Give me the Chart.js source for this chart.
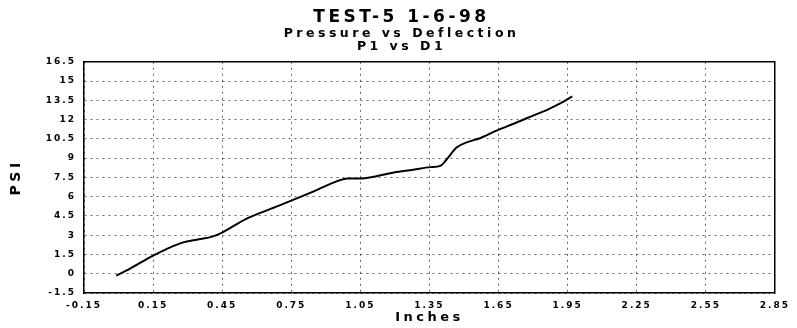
<!DOCTYPE html>
<html lang="en">
<head>
    <meta charset="UTF-8">
    <title>TEST-5 1-6-98 - Pressure vs Deflection</title>
    <script src="https://cdn.jsdelivr.net/npm/chart.js"></script>
    <style>
        html, body { margin: 0; padding: 0; background: #fff; }
        #wrap { width: 797px; height: 328px; }
    </style>
</head>
<body>
    <div id="wrap"><canvas id="testChart"></canvas></div>

    <script>
        // readings of the P1 vs D1 trace
        const deflection = [-0.01, 0.05, 0.15, 0.206, 0.277, 0.349, 0.407, 0.45, 0.55, 0.694, 0.837, 0.952, 0.995, 1.052, 1.196, 1.28, 1.354, 1.397, 1.426, 1.469, 1.512, 1.569, 1.641, 1.713, 1.784, 1.87, 1.928, 1.97];
        const pressure   = [-0.15, 0.4, 1.41, 1.9, 2.42, 2.68, 2.89, 3.2, 4.24, 5.28, 6.33, 7.23, 7.42, 7.42, 7.89, 8.1, 8.3, 8.4, 8.93, 9.84, 10.23, 10.55, 11.14, 11.66, 12.19, 12.84, 13.36, 13.8];

        const xTicks = [-0.15, 0.15, 0.45, 0.75, 1.05, 1.35, 1.65, 1.95, 2.25, 2.55, 2.85];
        const yTicks = [-1.5, 0, 1.5, 3, 4.5, 6, 7.5, 9, 10.5, 12, 13.5, 15, 16.5];

        const FONT = "'DejaVu Sans', Arial, sans-serif";

        // the scanned lettering is very wide, so spread the canvas letters
        const spacing = {
            id: 'spacing',
            beforeUpdate(chart) { chart.ctx.letterSpacing = '2px'; },
            beforeDraw(chart) { chart.ctx.letterSpacing = '3.5px'; },
            afterDatasetsDraw(chart) { chart.ctx.letterSpacing = '2px'; }
        };

        const grid = { color: 'rgba(0,0,0,0.6)', lineWidth: 1, drawTicks: false };
        const border = { display: true, color: '#000', width: 1.5, dash: [2, 4] };

        new Chart(document.getElementById('testChart'), {
            type: 'scatter',
            data: {
                datasets: [{
                    label: 'P1 vs D1',
                    data: deflection.map((d, i) => ({ x: d, y: pressure[i] })),
                    showLine: true,
                    borderColor: '#000',
                    borderWidth: 2,
                    pointRadius: 0,
                    cubicInterpolationMode: 'monotone',
                    fill: false
                }]
            },
            options: {
                responsive: true,
                maintainAspectRatio: false,
                animation: false,
                layout: { padding: { left: 6, right: 0, top: 0, bottom: 0 } },
                plugins: {
                    legend: { display: false },
                    tooltip: { enabled: false },
                    title: {
                        display: true,
                        text: 'TEST-5 1-6-98',
                        color: '#000',
                        font: { family: FONT, size: 17, weight: 'bold', lineHeight: 1.15 },
                        padding: { top: 8, bottom: 0 }
                    },
                    subtitle: {
                        display: true,
                        text: ['Pressure vs Deflection', 'P1 vs D1'],
                        color: '#000',
                        font: { family: FONT, size: 12.5, weight: 'bold', lineHeight: 1.05 },
                        padding: { top: 0, bottom: 8 }
                    }
                },
                scales: {
                    x: {
                        type: 'linear',
                        min: -0.15,
                        max: 2.85,
                        afterBuildTicks: axis => { axis.ticks = xTicks.map(v => ({ value: v })); },
                        afterFit: axis => { axis.height = 35; },
                        grid: grid,
                        border: border,
                        ticks: {
                            z: 1,
                            padding: 7,
                            color: '#000',
                            font: { family: FONT, size: 9, weight: 'bold' },
                            callback: v => v.toFixed(2)
                        },
                        title: {
                            display: true,
                            text: 'Inches',
                            color: '#000',
                            font: { family: FONT, size: 13, weight: 'bold', lineHeight: 1.2 },
                            padding: { top: 0, bottom: 3 }
                        }
                    },
                    y: {
                        type: 'linear',
                        min: -1.5,
                        max: 16.5,
                        afterBuildTicks: axis => { axis.ticks = yTicks.map(v => ({ value: v })); },
                        afterFit: axis => { axis.width = 78; },
                        grid: grid,
                        border: border,
                        ticks: {
                            z: 1,
                            padding: 8,
                            color: '#000',
                            font: { family: FONT, size: 9, weight: 'bold' },
                            callback: v => String(v)
                        },
                        title: {
                            display: true,
                            text: 'PSI',
                            color: '#000',
                            font: { family: FONT, size: 14, weight: 'bold', lineHeight: 1.2 },
                            padding: { top: 2, bottom: 2 }
                        }
                    },
                    x2: {
                        type: 'linear',
                        position: 'top',
                        min: -0.15,
                        max: 2.85,
                        grid: { display: false, drawTicks: false },
                        border: { display: true, color: '#000', width: 1.5 },
                        ticks: { display: false }
                    },
                    y2: {
                        type: 'linear',
                        position: 'right',
                        min: -1.5,
                        max: 16.5,
                        grid: { display: false, drawTicks: false },
                        border: { display: true, color: '#000', width: 1.5 },
                        ticks: { display: false }
                    }
                }
            },
            plugins: [spacing]
        });
    </script>
</body>
</html>
